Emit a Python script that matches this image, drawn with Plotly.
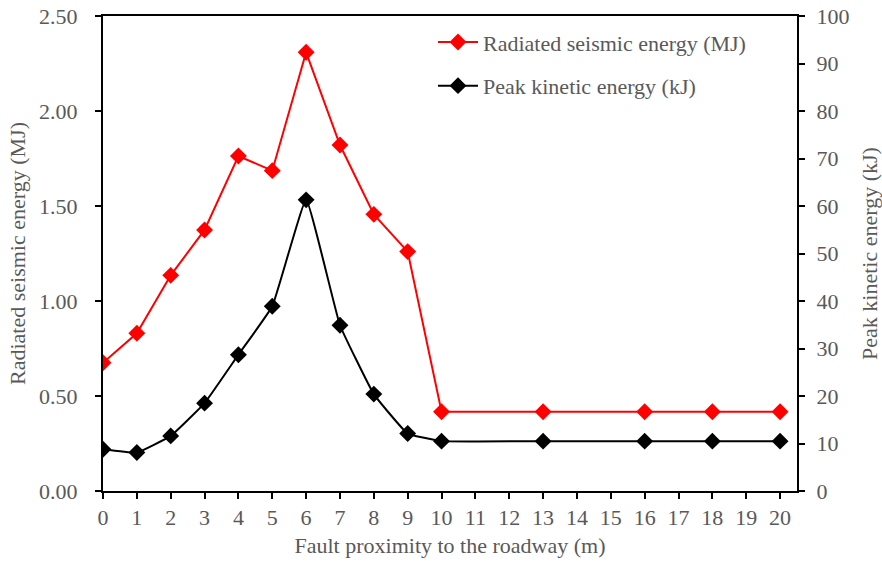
import plotly.graph_objects as go

x_vals = [0, 1, 2, 3, 4, 5, 6, 7, 8, 9, 10, 13, 16, 18, 20]
radiated_mj = [0.675, 0.83, 1.135, 1.374, 1.763, 1.686, 2.309, 1.821, 1.456, 1.26,
               0.417, 0.417, 0.417, 0.417, 0.417]
peak_kj = [8.8, 8.1, 11.6, 18.5, 28.7, 38.9, 61.3, 34.9, 20.4, 12.1,
           10.5, 10.5, 10.5, 10.5, 10.5]
x_ticks = list(range(0, 21))
left_ticks = [0, 0.5, 1.0, 1.5, 2.0, 2.5]
right_ticks = list(range(0, 101, 10))

FONT = "Liberation Serif, Times New Roman, serif"
GRAY = "#595959"

fig = go.Figure()
fig.add_trace(go.Scatter(
    x=x_vals, y=radiated_mj, name="Radiated seismic energy (MJ)", legendgroup="a",
    mode="lines+markers", line=dict(color="#ff0000", width=2),
    marker=dict(symbol="diamond", size=13, color="#ff0000"),
    yaxis="y"))
fig.add_trace(go.Scatter(
    x=x_vals, y=peak_kj, name="Peak kinetic energy (kJ)", legendgroup="b",
    mode="lines+markers", line=dict(color="#000000", width=2, shape="spline", smoothing=0.3),
    marker=dict(symbol="diamond", size=13, color="#000000"),
    yaxis="y2"))

fig.update_layout(
    width=882, height=566,
    margin=dict(l=103, r=85, t=16, b=75),
    paper_bgcolor="white", plot_bgcolor="white",
    font=dict(family=FONT, size=22, color=GRAY),
    showlegend=True,
    legend=dict(x=0.4755, y=0.989, xanchor="left", yanchor="top",
                bgcolor="rgba(0,0,0,0)", font=dict(size=22, color=GRAY),
                tracegroupgap=12, itemwidth=40),
    xaxis=dict(range=[0, 20.5], tickvals=x_ticks, ticktext=[str(v) for v in x_ticks],
               showgrid=False, zeroline=False, showline=True, linecolor="black",
               linewidth=2, mirror=True, ticks="outside", ticklen=6, tickcolor="black",
               tickwidth=1.5, tickfont=dict(size=22, color=GRAY), automargin=False,
               title=dict(text="Fault proximity to the roadway (m)", standoff=8,
                          font=dict(size=22, color=GRAY))),
    yaxis=dict(range=[0, 2.5], tickvals=left_ticks,
               ticktext=["%.2f" % v for v in left_ticks],
               showgrid=False, zeroline=False, showline=True, linecolor="black",
               linewidth=2, ticks="outside", ticklen=6, tickcolor="black", tickwidth=1.5,
               tickfont=dict(size=22, color=GRAY), automargin=False, ticklabelstandoff=13,
               title=dict(text="Radiated seismic energy (MJ)", standoff=7,
                          font=dict(size=22, color=GRAY))),
    yaxis2=dict(range=[0, 100], tickvals=right_ticks, overlaying="y", side="right",
                showgrid=False, zeroline=False, showline=True, linecolor="black",
                linewidth=2, ticks="outside", ticklen=6, tickcolor="black", tickwidth=1.5,
                tickfont=dict(size=22, color=GRAY), automargin=False, ticklabelstandoff=7,
                title=dict(text="Peak kinetic energy (kJ)", standoff=13,
                           font=dict(size=22, color=GRAY))),
)

fig.write_html("out.html")
